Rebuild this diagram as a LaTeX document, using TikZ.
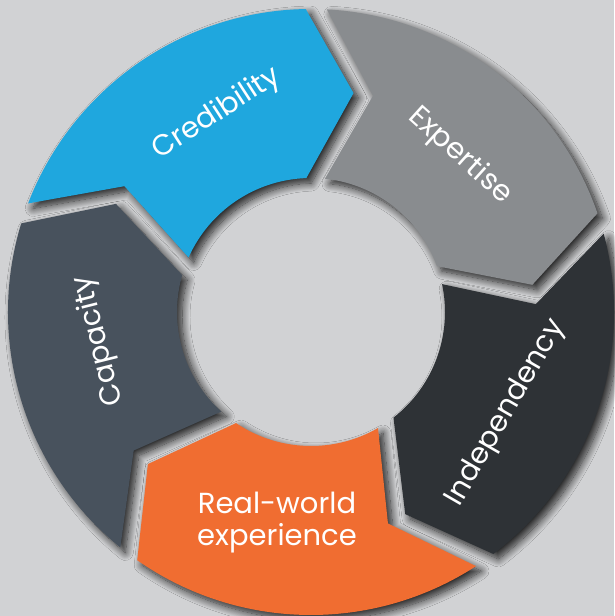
\documentclass[tikz,border=0pt]{standalone}
\usepackage{fontspec}
\setmainfont{Poppins}
\usepackage{tikz}
\usetikzlibrary{shadows.blur}
\usetikzlibrary{positioning}

\definecolor{backgrey}{HTML}{D1D2D4}
\definecolor{credblue}{HTML}{1FA7DE}
\definecolor{expgrey}{HTML}{898C8F}
\definecolor{inddark}{HTML}{2E3236}
\definecolor{realorange}{HTML}{F06D31}
\definecolor{capslate}{HTML}{48525D}

\begin{document}
\begin{tikzpicture}[
		x=1pt,
		y=1pt
		]
		% Define the radii of the ring.
			\def\Ro{303pt}
			\def\Ri{134pt}
		% One part of the ring, starting at angle #1 and running clockwise.
			\def\ringpart#1{
				(#1:\Ro) arc[start angle=#1, end angle=#1-68, radius=\Ro]
				-- ({#1-80}:223pt)
				-- ({#1-67}:\Ri) arc[start angle=#1-67, end angle=#1-3, radius=\Ri]
				-- ({#1-13}:225pt) -- cycle
			}
		\tikzstyle{part shadow}=[
			blur shadow={
				shadow xshift=5pt,
				shadow yshift=-5pt,
				shadow blur radius=8pt,
				shadow blur steps=14,
				shadow opacity=85
			}
		]
		\tikzstyle{part label}=[
			text=white,
			font=\fontsize{29}{32}\selectfont,
			align=center,
			inner sep=0 pt
		]
		% Draw the background.
			\fill[backgrey] (-311,-304) rectangle (303,312);
			\useasboundingbox (-311,-304) rectangle (303,312);
		% Draw the shadows of the parts first.
			\foreach \s in {159, 87, 15, -57, -129}
				\path[part shadow] \ringpart{\s};
		% Draw the parts of the ring.
			\foreach \s / \col in {159/credblue, 87/expgrey, 15/inddark, -57/realorange, -129/capslate}
				\fill[\col] \ringpart{\s};
		% Draw the labels.
			\node[part label, rotate=33] (credibility) at (-94,198) {Credibility};
			\node[part label, rotate=-42] (expertise) at (149,156) {Expertise};
			\node[part label, rotate=60] (independency) at (195,-101) {Independency};
			\node[part label] (realworld) at (-34,-211) {Real-world\\experience};
			\node[part label, rotate=104] (capacity) at (-212,-29) {Capacity};
	\end{tikzpicture}
\end{document}
